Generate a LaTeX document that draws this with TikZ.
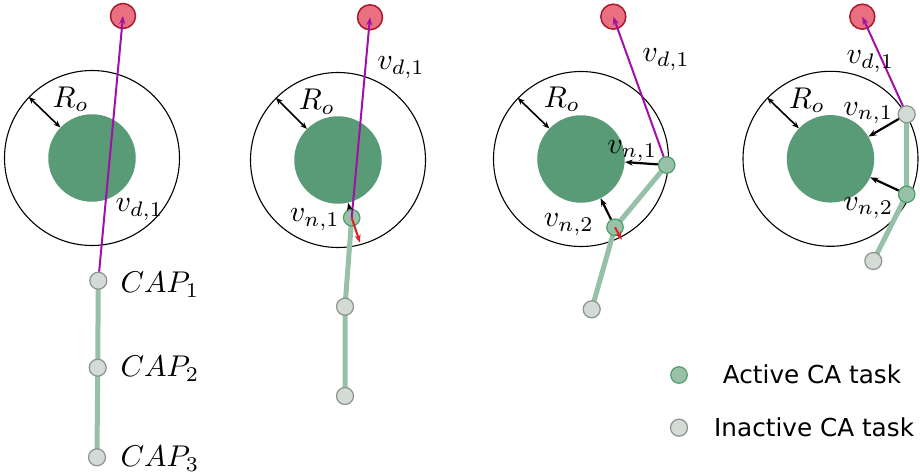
\documentclass[tikz,border=0pt]{standalone}
\usepackage{fontspec}
\newfontfamily\legfont{DejaVu Sans}
\usetikzlibrary{arrows.meta}
\definecolor{goalfill}{RGB}{232,112,127}
\definecolor{goalborder}{RGB}{172,24,48}
\definecolor{obsgreen}{RGB}{88,155,118}
\definecolor{linkgreen}{RGB}{150,192,168}
\definecolor{actfill}{RGB}{152,194,168}
\definecolor{actborder}{RGB}{78,156,108}
\definecolor{inactfill}{RGB}{211,219,214}
\definecolor{inactborder}{RGB}{140,146,142}
\definecolor{purp}{RGB}{162,16,170}
\definecolor{reparrow}{RGB}{222,32,40}
\pgfdeclarelayer{back}
\pgfdeclarelayer{mid}
\pgfsetlayers{back,mid,main}
\begin{document}
\begin{tikzpicture}[x=1pt,y=-1pt,
  ring/.style={circle,draw=black,line width=1.1pt,minimum size=175pt,inner sep=0pt},
  obst/.style={circle,fill=obsgreen,minimum size=87.5pt,inner sep=0pt},
  goal/.style={circle,fill=goalfill,draw=goalborder,line width=1.5pt,minimum size=25pt,inner sep=0pt},
  act/.style={circle,fill=actfill,draw=actborder,line width=1.2pt,minimum size=16.5pt,inner sep=0pt},
  inact/.style={circle,fill=inactfill,draw=inactborder,line width=1.2pt,minimum size=17pt,inner sep=0pt},
  link/.style={line width=5pt,draw=linkgreen},
  toward/.style={-{Stealth[length=8pt,width=6pt]},line width=2pt,draw=purp},
  push/.style={-{Stealth[length=8pt,width=6pt]},line width=2.2pt,draw=black},
  repel/.style={-{Stealth[length=8pt,width=6pt]},line width=2pt,draw=reparrow},
  radarrow/.style={{Stealth[length=7pt,width=5.5pt]}-{Stealth[length=7pt,width=5.5pt]},line width=1.6pt},
  lab/.style={anchor=base west,inner sep=0pt,scale=3},
  leg/.style={anchor=base west,inner sep=0pt,font=\legfont\fontsize{24.7}{29}\selectfont}
]
\useasboundingbox (0,0) rectangle (920,476);

% ---------- Panel 1 ----------
\begin{pgfonlayer}{back}
\node[ring] (o1) at (92,158) {};
\node[obst] (b1) at (92,158) {};
\end{pgfonlayer}
\node[goal] (g1) at (123,16) {};
\node[inact] (c1) at (98.3,280.7) {};
\node[inact] (c2) at (97.7,367.7) {};
\node[inact] (c3) at (97,457.3) {};
\begin{pgfonlayer}{mid}
\draw[link] (c1.center) -- (c2.center) -- (c3.center);
\end{pgfonlayer}
\draw[toward] (c1) -- (g1.center);
\draw[radarrow] (o1.136) -- (b1.136);
\node[lab] (r1) at (52,107.5) {$R_o$};
\node[lab] (vd1) at (115,211.7) {$v_{d,1}$};
\node[lab] (cap1) at (120,292.5) {$CAP_1$};
\node[lab] (cap2) at (120,376.7) {$CAP_2$};
\node[lab] (cap3) at (120,466.7) {$CAP_3$};

% ---------- Panel 2 ----------
\begin{pgfonlayer}{back}
\node[ring] (o2) at (338,160) {};
\node[obst] (b2) at (338,160) {};
\end{pgfonlayer}
\node[goal] (g2) at (370,17.3) {};
\node[act] (a21) at (351.7,217.7) {};
\node[inact] (n22) at (345,306.7) {};
\node[inact] (n23) at (345,396) {};
\begin{pgfonlayer}{mid}
\draw[link] (a21.center) -- (n22.center) -- (n23.center);
\end{pgfonlayer}
\coordinate (e2) at (360,242.7);
\draw[toward] (a21.center) -- (g2.center);
\draw[push] (a21) -- (b2);
\draw[repel] (a21.center) -- (e2);
\draw[radarrow] (o2.135) -- (b2.135);
\node[lab] (r2) at (298.3,110) {$R_o$};
\node[lab] (vd2) at (376.7,70) {$v_{d,1}$};
\node[lab] (vn21) at (289.3,221.7) {$v_{n,1}$};

% ---------- Panel 3 ----------
\begin{pgfonlayer}{back}
\node[ring] (o3) at (581,159) {};
\node[obst] (b3) at (581,159) {};
\end{pgfonlayer}
\node[goal] (g3) at (613.3,16.7) {};
\node[act] (a31) at (666.7,165) {};
\node[act] (a32) at (615,227.3) {};
\node[inact] (n33) at (591.7,309.3) {};
\begin{pgfonlayer}{mid}
\draw[link] (a31.center) -- (a32.center) -- (n33.center);
\end{pgfonlayer}
\coordinate (e3) at (621.7,239.8);
\draw[toward] (a31) -- (g3.center);
\draw[push] (a31) -- (b3);
\draw[push] (a32) -- (b3);
\draw[repel] (a32.center) -- (e3);
\draw[radarrow] (o3.136) -- (b3.136);
\node[lab] (r3) at (543.3,107.3) {$R_o$};
\node[lab] (vd3) at (641.7,61.7) {$v_{d,1}$};
\node[lab] (vn31) at (606.7,153.3) {$v_{n,1}$};
\node[lab] (vn32) at (543.3,226.7) {$v_{n,2}$};

% ---------- Panel 4 ----------
\begin{pgfonlayer}{back}
\node[ring] (o4) at (830.5,158.8) {};
\node[obst] (b4) at (830.5,158.8) {};
\end{pgfonlayer}
\node[goal] (g4) at (862.3,16.7) {};
\node[inact] (n41) at (906.7,114.3) {};
\node[act] (a42) at (906.7,194.3) {};
\node[inact] (n43) at (873.3,261) {};
\begin{pgfonlayer}{mid}
\draw[link] (n41.center) -- (a42.center) -- (n43.center);
\end{pgfonlayer}
\draw[toward] (n41) -- (g4.center);
\draw[push] (n41) -- (b4);
\draw[push] (a42) -- (b4);
\draw[radarrow] (o4.136) -- (b4.136);
\node[lab] (r4) at (788.3,108.3) {$R_o$};
\node[lab] (vd4) at (846,64) {$v_{d,1}$};
\node[lab] (vn41) at (842.7,115) {$v_{n,1}$};
\node[lab] (vn42) at (842.7,210) {$v_{n,2}$};

% ---------- Legend ----------
\node[act] (la) at (679,375) {};
\node[leg] (lat) at (722.7,383.3) {Active CA task};
\node[inact] (li) at (679,427.7) {};
\node[leg] (lit) at (714,436.7) {Inactive CA task};
\end{tikzpicture}
\end{document}
